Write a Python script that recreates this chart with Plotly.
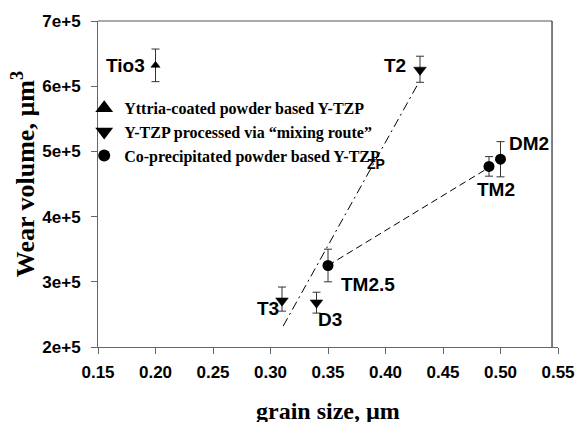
import plotly.graph_objects as go

# ---- data ----
coated_x = [0.20]
coated_y = [6.32e5]
coated_err = [0.25e5]
coated_lbl = ["Tio3"]

mixing_x = [0.43, 0.31, 0.34]
mixing_y = [6.25e5, 2.71e5, 2.68e5]
mixing_err_plus = [0.21e5, 0.21e5, 0.16e5]
mixing_err_minus = [0.19e5, 0.16e5, 0.16e5]
mixing_lbl = ["T2", "T3", "D3"]

coprec_x = [0.50, 0.49, 0.35]
coprec_y = [4.88e5, 4.77e5, 3.25e5]
coprec_err = [0.27e5, 0.15e5, 0.25e5]
coprec_lbl = ["DM2", "TM2", "TM2.5"]

trend_mix_x = [0.311, 0.429]
trend_mix_y = [2.32e5, 6.06e5]
trend_co_x = [0.35, 0.486]
trend_co_y = [3.25e5, 4.71e5]

x_ticks = [0.15, 0.20, 0.25, 0.30, 0.35, 0.40, 0.45, 0.50, 0.55]
x_ticktext = ["0.15", "0.20", "0.25", "0.30", "0.35", "0.40", "0.45", "0.50", "0.55"]
y_ticks = [2e5, 3e5, 4e5, 5e5, 6e5, 7e5]
y_ticktext = ["2e+5", "3e+5", "4e+5", "5e+5", "6e+5", "7e+5"]

legend_names = ["Yttria-coated powder based Y-TZP",
                "Y-TZP processed via \u201cmixing route\u201d",
                "Co-precipitated powder based Y-TZP"]

SANS = "Arial, Liberation Sans, sans-serif"
SERIF = "Times New Roman, Liberation Serif, serif"
ERRC = "#333333"

fig = go.Figure()

fig.add_trace(go.Scatter(x=trend_mix_x, y=trend_mix_y, mode="lines", showlegend=False,
                         line=dict(color="black", width=1, dash="9px,4px,2px,4px"), hoverinfo="skip"))
fig.add_trace(go.Scatter(x=trend_co_x, y=trend_co_y, mode="lines", showlegend=False,
                         line=dict(color="black", width=1, dash="7px,4px"), hoverinfo="skip"))

fig.add_trace(go.Scatter(x=coated_x, y=coated_y, mode="markers", name=legend_names[0],
                         marker=dict(symbol="triangle-up", size=8, color="black",
                                     line=dict(color="black", width=0.5)),
                         error_y=dict(type="data", array=coated_err, color=ERRC, thickness=1, width=4)))
fig.add_trace(go.Scatter(x=mixing_x, y=mixing_y, mode="markers", name=legend_names[1],
                         marker=dict(symbol="triangle-down", size=11, color="black",
                                     line=dict(color="black", width=0.5)),
                         error_y=dict(type="data", array=mixing_err_plus, arrayminus=mixing_err_minus,
                                      color=ERRC, thickness=1, width=4)))
fig.add_trace(go.Scatter(x=coprec_x, y=coprec_y, mode="markers", name=legend_names[2],
                         marker=dict(symbol="circle", size=11, color="black"),
                         error_y=dict(type="data", array=coprec_err, color=ERRC, thickness=1, width=4)))

# label placement (pixel offsets, anchors)
label_style = {
    "Tio3": ("right", -9, 0),
    "T2": ("right", -12, 4),
    "T3": ("right", -1, -8),
    "D3": ("left", -1, -17),
    "DM2": ("left", 6, 16),
    "TM2": ("center", 7, -23),
    "TM2.5": ("left", 11, -19),
}
for xs, ys, ls in [(coated_x, coated_y, coated_lbl), (mixing_x, mixing_y, mixing_lbl),
                   (coprec_x, coprec_y, coprec_lbl)]:
    for x, y, l in zip(xs, ys, ls):
        anc, dx, dy = label_style[l]
        fig.add_annotation(x=x, y=y, text=l, showarrow=False, xanchor=anc, yanchor="middle",
                           xshift=dx, yshift=dy,
                           font=dict(family=SANS, size=19, color="black", weight="bold"))

# stray "ZP" text present in the reference
fig.add_annotation(x=0.3914, y=4.81e5, text="ZP", showarrow=False,
                   font=dict(family=SANS, size=14, color="black", weight="bold"))

# axis titles
fig.add_annotation(xref="paper", yref="paper", x=0.5, y=-0.197, text="grain size, \u00b5m",
                   showarrow=False, xanchor="center", yanchor="middle",
                   font=dict(family=SERIF, size=24, color="black", weight="bold"))
fig.add_annotation(xref="paper", yref="paper", x=-0.1617, y=0.529,
                   text="Wear volume, \u00b5m<sup>3</sup>", textangle=-90,
                   showarrow=False, xanchor="center", yanchor="middle",
                   font=dict(family=SERIF, size=26, color="black", weight="bold"))

# frame: top (gray) and right (black) borders
fig.add_shape(type="line", xref="x domain", yref="y domain", x0=0, x1=0.987, y0=1, y1=1,
              line=dict(color="#555555", width=1))
fig.add_shape(type="line", xref="x domain", yref="y domain", x0=0.987, x1=0.987, y0=0, y1=1,
              line=dict(color="black", width=1))

fig.update_layout(
    width=587, height=422,
    margin=dict(l=98, r=19, t=17, b=75),
    paper_bgcolor="white", plot_bgcolor="white",
    showlegend=True,
    legend=dict(x=-0.03, y=0.785, xanchor="left", yanchor="top", bgcolor="rgba(0,0,0,0)",
                font=dict(family=SERIF, size=16, color="black", weight="bold"),
                itemsizing="constant", tracegroupgap=0),
    xaxis=dict(range=[0.15, 0.55], tickvals=x_ticks, ticktext=x_ticktext,
               showgrid=False, zeroline=False, showline=True, linecolor="#666666", linewidth=1,
               ticks="outside", ticklen=6, tickcolor="#666666", ticklabelstandoff=4,
               tickfont=dict(family=SANS, size=17, color="black", weight="bold")),
    yaxis=dict(range=[2e5, 7e5], tickvals=y_ticks, ticktext=y_ticktext,
               showgrid=False, zeroline=False, showline=True, linecolor="#666666", linewidth=1,
               ticks="outside", ticklen=6, tickcolor="#666666", ticklabelstandoff=7,
               tickfont=dict(family=SANS, size=17, color="black", weight="bold")),
)

fig.write_html("out.html")
